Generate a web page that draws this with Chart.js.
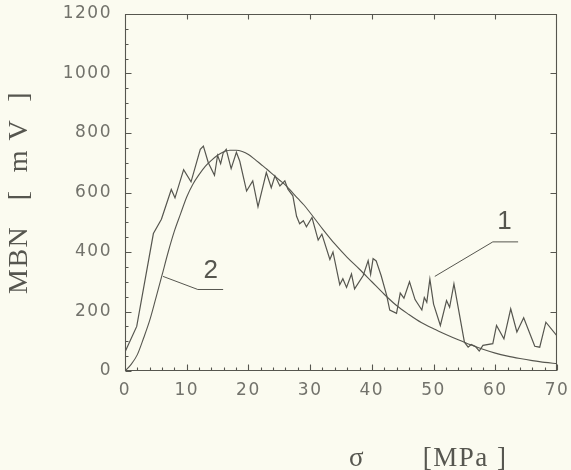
<!DOCTYPE html>
<html>
<head>
<meta charset="utf-8">
<script src="https://cdn.jsdelivr.net/npm/chart.js@4.4.1/dist/chart.umd.min.js"></script>
<style>
html,body{margin:0;padding:0;background:#fbfbf0;}
#wrap{width:571px;height:470px;position:relative;}
</style>
</head>
<body>
<div id="wrap"><canvas id="c" width="571" height="470"></canvas></div>
<script>
// ---- data ----
const X_TICKS = [0, 10, 20, 30, 40, 50, 60, 70];
const Y_TICKS = [0, 200, 400, 600, 800, 1000, 1200];

// curve 1: measured MBN (noisy)
const NOISY_X = [0,1.9,4.6,5.9,7.5,8.1,9.5,10.7,12.2,12.7,13.5,14.5,15.0,15.5,15.9,16.4,17.2,18.05,18.6,19.7,20.7,21.55,22.9,23.7,24.3,25.1,25.9,26.4,27.2,27.8,28.3,28.9,29.4,30.3,31.3,31.9,33.2,33.7,34.8,35.3,35.9,36.7,37.2,38.6,39.4,39.8,40.2,40.7,41.5,42.4,42.9,44.0,44.6,45.2,46.1,47.0,48.1,48.5,48.9,49.4,50.0,51.1,52.1,52.6,53.3,55.0,55.6,56.1,56.8,57.4,58.0,59.6,60.2,61.4,62.5,63.5,64.6,66.4,67.2,68.2,70];
const NOISY_Y = [64,150,462,510,610,582,677,636,745,756,700,658,725,697,732,745,680,735,705,605,639,552,667,616,656,622,639,611,589,520,495,505,485,516,440,460,375,400,290,310,281,326,276,321,371,325,378,370,321,254,205,194,262,245,300,240,205,247,231,309,225,153,237,214,293,97,80,89,82,67,86,92,153,108,209,131,179,83,80,164,118];

// curve 2: model (smooth)
const SMOOTH_X = [0,1,2,3,4,5,6,7,8,9,10,11,12,13,14,15,16,17,18,19,20,21,22,23,24,25,26,27,28,29,30,32,34,36,38,40,42,44,46,48,50,52,54,56,58,60,62,64,66,68,70];
const SMOOTH_Y = [0,22,55,110,170,245,322,400,470,528,585,628,660,688,708,725,737,742,742,738,728,712,695,678,660,642,625,603,580,558,532,478,427,382,342,300,258,220,190,163,142,123,105,88,73,60,50,42,35,29,25];

// leader lines and curve labels (data coordinates)
const LEADER1_X = [50.2, 59.6, 63.7];
const LEADER1_Y = [318, 434, 434];
const LEADER2_X = [6.16, 11.8, 15.9];
const LEADER2_Y = [318, 274, 274];
const CURVE_LABELS = ['1', '2'];
const CURVE_LABEL_X = [61.5, 13.9];
const CURVE_LABEL_Y = [501, 337];

const X_TITLE = 'σ       [MPa ]      ';
const Y_TITLE = 'MBN   [  m V  ]';

// ---- styling ----
const INK = '#56564f';
const TEXT = '#72726b';
const BG = '#fbfbf0';

const pts = (xs, ys) => xs.map((x, i) => ({x: x, y: ys[i]}));

const bgPlugin = {
  id: 'bg',
  beforeDraw(chart) {
    const ctx = chart.ctx;
    ctx.save();
    ctx.fillStyle = BG;
    ctx.fillRect(0, 0, chart.width, chart.height);
    ctx.restore();
    try { ctx.letterSpacing = '1.5px'; } catch (e) {}
  }
};

const framePlugin = {
  id: 'frame',
  afterDraw(chart) {
    const ctx = chart.ctx;
    const xs = chart.scales.x, ys = chart.scales.y;
    const a = chart.chartArea;
    const L = Math.round(a.left) + 0.5, R = Math.round(a.right) - 0.5;
    const T = Math.round(a.top) + 0.5, B = Math.round(a.bottom) - 0.5;
    ctx.save();
    ctx.strokeStyle = INK;
    ctx.lineWidth = 1.1;
    ctx.beginPath();
    ctx.rect(L, T, R - L, B - T);
    for (let v = 0; v <= 70; v += 2) {
      const px = Math.round(xs.getPixelForValue(v)) + 0.5;
      const len = (v % 10 === 0) ? 6 : 3;
      ctx.moveTo(px, B); ctx.lineTo(px, B - len);
    }
    for (let v = 10; v < 70; v += 10) {
      const px = Math.round(xs.getPixelForValue(v)) + 0.5;
      ctx.moveTo(px, T); ctx.lineTo(px, T + 5);
    }
    for (let v = 0; v <= 1200; v += 50) {
      const py = Math.round(ys.getPixelForValue(v)) + 0.5;
      const len = (v % 200 === 0) ? 6 : 3;
      ctx.moveTo(L, py); ctx.lineTo(L + len, py);
    }
    for (let v = 200; v < 1200; v += 200) {
      const py = Math.round(ys.getPixelForValue(v)) + 0.5;
      ctx.moveTo(R, py); ctx.lineTo(R - 6, py);
    }
    ctx.stroke();

    ctx.fillStyle = INK;
    ctx.font = '26px "Liberation Sans", Arial, sans-serif';
    ctx.textAlign = 'center';
    ctx.textBaseline = 'middle';
    try { ctx.letterSpacing = '0px'; } catch (e) {}
    CURVE_LABELS.forEach((t, i) => {
      ctx.fillText(t, xs.getPixelForValue(CURVE_LABEL_X[i]), ys.getPixelForValue(CURVE_LABEL_Y[i]));
    });
    ctx.restore();
  }
};

const lineDs = (data, extra) => Object.assign({
  data: data,
  borderColor: INK,
  borderWidth: 1.2,
  pointRadius: 0,
  fill: false,
  tension: 0
}, extra || {});

new Chart(document.getElementById('c'), {
  type: 'line',
  data: {
    datasets: [
      lineDs(pts(NOISY_X, NOISY_Y), {label: '1'}),
      lineDs(pts(SMOOTH_X, SMOOTH_Y), {label: '2', cubicInterpolationMode: 'monotone', borderWidth: 1.1}),
      lineDs(pts(LEADER1_X, LEADER1_Y), {label: 'l1', borderWidth: 1}),
      lineDs(pts(LEADER2_X, LEADER2_Y), {label: 'l2', borderWidth: 1})
    ]
  },
  options: {
    responsive: false,
    animation: false,
    devicePixelRatio: 1,
    layout: {padding: {top: 14, right: 14, left: 0, bottom: 0}},
    plugins: {legend: {display: false}, tooltip: {enabled: false}},
    scales: {
      x: {
        type: 'linear',
        min: 0, max: 70,
        afterBuildTicks(s) { s.ticks = X_TICKS.map(v => ({value: v})); },
        afterFit(s) { s.height = 99; s.paddingLeft = 0; s.paddingRight = 0; },
        grid: {display: false, drawTicks: false, tickLength: 0},
        border: {display: false},
        ticks: {
          color: TEXT,
          padding: 9,
          maxRotation: 0,
          autoSkip: false,
          callback: v => String(v),
          font: {family: '"DejaVu Sans", sans-serif', size: 17}
        },
        title: {
          display: true,
          text: X_TITLE,
          align: 'end',
          color: INK,
          padding: {top: 0, bottom: 0},
          font: {family: '"Liberation Serif", "Times New Roman", serif', size: 27, lineHeight: 0.8}
        }
      },
      y: {
        type: 'linear',
        min: 0, max: 1200,
        afterBuildTicks(s) { s.ticks = Y_TICKS.map(v => ({value: v})); },
        afterFit(s) { s.width = 125; s.paddingTop = 0; s.paddingBottom = 0; },
        grid: {display: false, drawTicks: false, tickLength: 0},
        border: {display: false},
        ticks: {
          color: TEXT,
          padding: 13,
          autoSkip: false,
          callback: v => String(v),
          font: {family: '"DejaVu Sans", sans-serif', size: 17}
        },
        title: {
          display: true,
          text: Y_TITLE,
          color: INK,
          padding: {top: 3, bottom: 0},
          font: {family: '"Liberation Serif", "Times New Roman", serif', size: 28}
        }
      }
    }
  },
  plugins: [bgPlugin, framePlugin]
});
</script>
</body>
</html>
